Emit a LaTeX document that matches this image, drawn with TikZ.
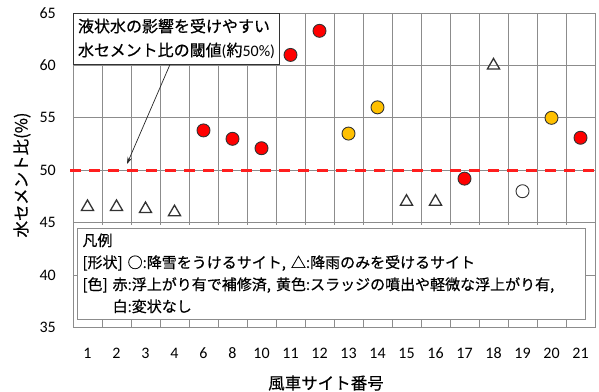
\documentclass[tikz,border=0pt]{standalone}
\usepackage{fontspec}
\setmainfont{Carlito}
\newfontfamily\jp[FakeBold=0.5]{Noto Sans CJK JP}
\usetikzlibrary{shapes.geometric,arrows.meta}
\definecolor{gridgray}{RGB}{140,140,140}
\definecolor{mred}{RGB}{255,0,0}
\definecolor{myel}{RGB}{255,192,0}
\definecolor{medge}{RGB}{50,50,50}
\definecolor{dashred}{RGB}{255,30,30}
\tikzset{
  gridline/.style={draw=gridgray, line width=1pt},
  markbase/.style={circle, draw=medge, line width=0.9pt, minimum size=13pt, inner sep=0pt},
  mred/.style={markbase, fill=mred},
  myel/.style={markbase, fill=myel},
  mwht/.style={markbase, fill=white},
  mtri/.style={regular polygon, regular polygon sides=3, draw=medge, line width=1.3pt, minimum size=14pt, inner sep=0pt},
  ticklab/.style={font=\fontsize{16}{16}\selectfont, inner sep=0pt},
  jptitle/.style={font=\jp\fontsize{16.5}{16.5}\selectfont, inner sep=0pt},
  thresh/.style={draw=dashred, line width=3pt, dash pattern=on 11pt off 8pt},
  annbox/.style={draw=black!80, line width=1pt, fill=white, align=left, text width=196pt, inner xsep=5pt, minimum height=51pt, font=\jp\fontsize{16}{24}\selectfont},
  legbox/.style={draw=gridgray, line width=1pt, fill=white, align=left, text width=498pt, inner xsep=5pt, inner ysep=4pt, minimum height=91pt, font=\jp\fontsize{15}{22}\selectfont},
  pointer/.style={-{Stealth[length=7pt,width=4.5pt]}, line width=0.7pt, draw=black!85},
}
\begin{document}
\begin{tikzpicture}[x=1pt,y=-1pt]
\useasboundingbox[fill=white] (0,0) rectangle (599,391);
% grid
\foreach \v in {35,40,...,65}{
  \pgfmathsetmacro\yy{13+(65-\v)*10.4833}
  \draw[gridline] (73,\yy) -- (595,\yy);
  \node[ticklab, anchor=east] (yl\v) at (56,\yy) {\v};
}
\foreach \k in {0,...,18}{
  \pgfmathsetmacro\xx{73+29*\k}
  \draw[gridline] (\xx,13) -- (\xx,327.5);
}
% x labels
\foreach \lab [count=\i] in {1,2,3,4,6,8,10,11,12,13,14,15,16,17,18,19,20,21}{
  \pgfmathsetmacro\xx{73+29*(\i-0.5)}
  \node[ticklab] (xl\i) at (\xx,353) {\lab};
}
% legend
\fill[white] (77,224.5) rectangle (585,229);
\node[legbox, anchor=north west] (legend) at (77,228) {凡例\\
{[形状]} ○:降雪をうけるサイト, △:降雨のみを受けるサイト\\
{[色]}\ 赤:浮上がり有で補修済, 黄色:スラッジの噴出や軽微な浮上がり有,\\
\phantom{[色]\ }白:変状なし};
% threshold line
\coordinate (tl) at (70,170.2);
\coordinate (tr) at (595,170.2);
\draw[thresh] (tl) -- (tr);
% markers
\foreach \i/\v in {1/46.5,2/46.5,3/46.3,4/46.0,12/47.0,13/47.0,15/60.0}{
  \pgfmathsetmacro\xx{73+29*(\i-0.5)}
  \pgfmathsetmacro\yy{13+(65-\v)*10.4833}
  \node[mtri] (p\i) at (\xx,\yy) {};
}
\foreach \i/\v in {5/53.8,6/53.0,7/52.1,8/61.0,9/63.3,14/49.2,18/53.1}{
  \pgfmathsetmacro\xx{73+29*(\i-0.5)}
  \pgfmathsetmacro\yy{13+(65-\v)*10.4833}
  \node[mred] (p\i) at (\xx,\yy) {};
}
\foreach \i/\v in {10/53.5,11/56.0,17/55.0}{
  \pgfmathsetmacro\xx{73+29*(\i-0.5)}
  \pgfmathsetmacro\yy{13+(65-\v)*10.4833}
  \node[myel] (p\i) at (\xx,\yy) {};
}
\foreach \i/\v in {16/48.0}{
  \pgfmathsetmacro\xx{73+29*(\i-0.5)}
  \pgfmathsetmacro\yy{13+(65-\v)*10.4833}
  \node[mwht] (p\i) at (\xx,\yy) {};
}
% annotation
\node[annbox] (ann) at (176,38.5) {液状水の影響を受けやすい\\水セメント比の閾値{\rmfamily(}約{\rmfamily 50\%)}};
\coordinate (tip) at (127,164);
\draw[pointer] ([xshift=-6pt]ann.south) -- (tip);
% axis titles
\node[jptitle, rotate=90] (ytitle) at (22,175) {水セメント比(\%)};
\node[jptitle] (xtitle) at (326,383) {風車サイト番号};
\end{tikzpicture}
\end{document}
